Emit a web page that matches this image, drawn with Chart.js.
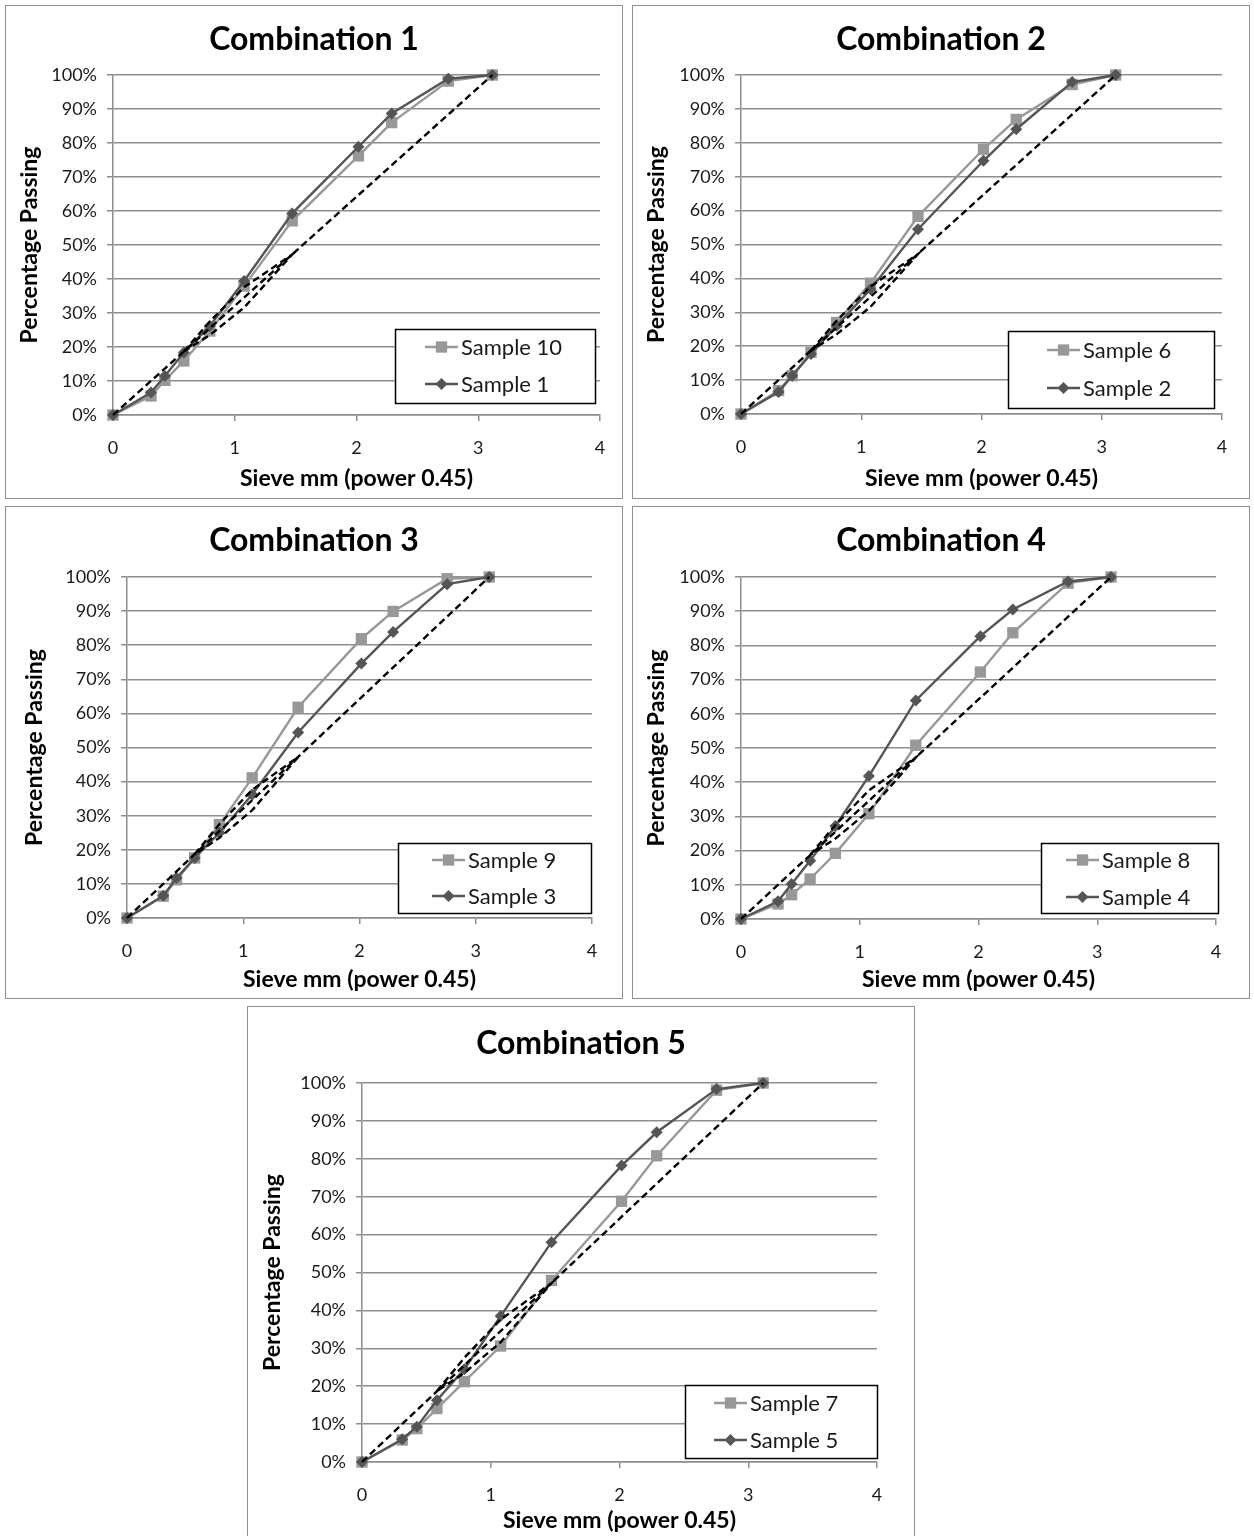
<!DOCTYPE html>
<html>
<head>
<meta charset="utf-8">
<title>Gradation curves – Combinations 1 to 5</title>
<script src="https://cdn.jsdelivr.net/npm/chart.js@4.4.1/dist/chart.umd.min.js"></script>
<style>
  html, body { margin: 0; padding: 0; background: #fff; width: 1254px; height: 1536px; overflow: hidden; }
  .panel { position: absolute; border: 1px solid #8f8f8f; box-sizing: border-box; background: #fff; overflow: hidden; }
  .panel canvas { position: absolute; left: 0; top: 0; }
</style>
</head>
<body>
<div class="panel" style="left:5px;top:5px;width:618px;height:494px"><canvas id="c1"></canvas></div>
<div class="panel" style="left:632px;top:5px;width:618px;height:494px"><canvas id="c2"></canvas></div>
<div class="panel" style="left:5px;top:506px;width:618px;height:493px"><canvas id="c3"></canvas></div>
<div class="panel" style="left:632px;top:506px;width:618px;height:493px"><canvas id="c4"></canvas></div>
<div class="panel" style="left:247px;top:1006px;width:668px;height:545px"><canvas id="c5"></canvas></div>

<script>
// Sieve sizes (mm) raised to the power 0.45: pan, 0.075, 0.15, 0.3, 0.6, 1.18, 2.36, 4.75, 6.3, 9.5, 12.5
const sieveX = [0, 0.312, 0.426, 0.582, 0.795, 1.077, 1.472, 2.016, 2.289, 2.754, 3.116];

const xTickValues = [0, 1, 2, 3, 4];
const yTickValues = [0, 10, 20, 30, 40, 50, 60, 70, 80, 90, 100];

// Percentage passing for each sample
const sample10 = [0, 5.6, 10.2, 15.9, 24.7, 37.9, 57.1, 76.2, 86.0, 98.2, 100];
const sample1  = [0, 6.6, 11.5, 18.4, 26.2, 39.4, 59.3, 78.9, 88.7, 98.9, 100];
const sample6  = [0, 6.9, 11.3, 18.2, 27.0, 38.6, 58.3, 78.1, 86.9, 97.2, 100];
const sample2  = [0, 6.5, 11.3, 17.7, 26.0, 36.8, 54.5, 74.7, 84.0, 97.9, 100];
const sample9  = [0, 6.4, 11.2, 17.6, 27.4, 41.1, 61.8, 81.9, 89.9, 99.5, 100];
const sample3  = [0, 6.5, 11.7, 17.6, 25.0, 36.2, 54.4, 74.6, 83.9, 97.9, 100];
const sample8  = [0, 4.4, 7.1, 11.7, 19.2, 30.8, 50.8, 72.2, 83.7, 98.2, 100];
const sample4  = [0, 5.2, 10.2, 17.0, 27.2, 41.8, 63.9, 82.7, 90.5, 98.7, 100];
const sample7  = [0, 5.8, 8.8, 14.1, 21.2, 30.6, 47.9, 68.8, 80.8, 98.1, 100];
const sample5  = [0, 6.0, 9.3, 16.3, 24.5, 38.5, 58.0, 78.2, 87.0, 98.4, 100];

// Maximum density line (0.45 power) and restricted zone
const maxDensityX = [0, 3.116];
const maxDensityY = [0, 100];
const zoneX = [0.582, 0.795, 1.077, 1.472, 1.077, 0.795, 0.582];
const zoneY = [18.7, 27.5, 37.6, 47.2, 31.6, 23.5, 18.7];

const combinationTitles = ['Combination 1', 'Combination 2', 'Combination 3', 'Combination 4', 'Combination 5'];
const squareSampleNames = ['Sample 10', 'Sample 6', 'Sample 9', 'Sample 8', 'Sample 7'];
const diamondSampleNames = ['Sample 1', 'Sample 2', 'Sample 3', 'Sample 4', 'Sample 5'];
const squareSampleValues = [sample10, sample6, sample9, sample8, sample7];
const diamondSampleValues = [sample1, sample2, sample3, sample4, sample5];

const axisTitleX = 'Sieve mm (power 0.45)';
const axisTitleY = 'Percentage Passing';

// ---- styling / layout ----
const FONT = 'Lato, "Open Sans", "DejaVu Sans", sans-serif';
const GRID = '#8d8d8d';
const SQUARE_COLOR = '#989898';
const DIAMOND_COLOR = '#555555';
const TITLE_SIZE = 32;
const AXIS_TITLE_SIZE = 23;
const TICK_SIZE = 18;
const LEGEND_SIZE = 22;

// canvas size, plot rectangle, text centre offsets and legend box for each panel (canvas pixels)
const panelLayouts = [
  { id: 'c1', w: 616, h: 492, plot: { left: 107, top: 69, right: 594, bottom: 409 }, titleMid: 34, yTitleMid: 24, xTitleFromBottom: 19,
    legend: { x: 389, y: 323, w: 200, h: 74, lineX: 30, rowA: 18, rowB: 55 } },
  { id: 'c2', w: 616, h: 492, plot: { left: 108, top: 69, right: 589, bottom: 408 }, titleMid: 34, yTitleMid: 24, xTitleFromBottom: 19,
    legend: { x: 375, y: 325, w: 206, h: 77, lineX: 39, rowA: 19, rowB: 57 } },
  { id: 'c3', w: 616, h: 491, plot: { left: 121, top: 70, right: 586, bottom: 411 }, titleMid: 34, yTitleMid: 29, xTitleFromBottom: 18,
    legend: { x: 392, y: 336, w: 193, h: 70, lineX: 34, rowA: 17, rowB: 53 } },
  { id: 'c4', w: 616, h: 491, plot: { left: 108, top: 70, right: 583, bottom: 412 }, titleMid: 34, yTitleMid: 24, xTitleFromBottom: 18,
    legend: { x: 408, y: 336, w: 177, h: 70, lineX: 25, rowA: 17, rowB: 54 } },
  { id: 'c5', w: 666, h: 530, plot: { left: 114, top: 76, right: 629, bottom: 455 }, titleMid: 37, yTitleMid: 25, xTitleFromBottom: 16,
    legend: { x: 437, y: 378, w: 192, h: 73, lineX: 29, rowA: 18, rowB: 55 } }
];

const toPoints = (xs, ys) => xs.map((x, i) => ({ x: x, y: ys[i] }));

function drawMarker(ctx, style, r, cx, cy, color) {
  ctx.beginPath();
  if (style === 'rect') {
    const s = r * Math.SQRT1_2;
    ctx.rect(cx - s, cy - s, 2 * s, 2 * s);
  } else {
    ctx.moveTo(cx, cy - r);
    ctx.lineTo(cx + r, cy);
    ctx.lineTo(cx, cy + r);
    ctx.lineTo(cx - r, cy);
    ctx.closePath();
  }
  ctx.fillStyle = color;
  ctx.fill();
}

// boxed legend drawn inside the plot, Excel style
const boxedLegend = {
  id: 'boxedLegend',
  afterDraw(chart, args, opts) {
    if (!opts || !opts.rows) return;
    const ctx = chart.ctx;
    ctx.save();
    ctx.fillStyle = '#ffffff';
    ctx.fillRect(opts.x, opts.y, opts.w, opts.h);
    ctx.strokeStyle = '#000000';
    ctx.lineWidth = 1.5;
    ctx.strokeRect(opts.x + 0.5, opts.y + 0.5, opts.w, opts.h);
    opts.rows.forEach(row => {
      const ds = chart.data.datasets[row.dataset];
      const y = opts.y + row.dy;
      const x0 = opts.x + opts.lineX;
      const x1 = x0 + 33;
      ctx.strokeStyle = ds.borderColor;
      ctx.lineWidth = ds.borderWidth;
      ctx.beginPath();
      ctx.moveTo(x0, y);
      ctx.lineTo(x1, y);
      ctx.stroke();
      drawMarker(ctx, ds.pointStyle, ds.pointRadius, (x0 + x1) / 2, y, ds.pointBackgroundColor);
      ctx.fillStyle = '#1a1a1a';
      ctx.font = LEGEND_SIZE + 'px ' + FONT;
      ctx.textAlign = 'left';
      ctx.textBaseline = 'middle';
      ctx.fillText(ds.label, x1 + 3, y + 1);
    });
    ctx.restore();
  }
};

panelLayouts.forEach((L, i) => {
  const canvas = document.getElementById(L.id);
  canvas.width = L.w;
  canvas.height = L.h;
  canvas.style.width = L.w + 'px';
  canvas.style.height = L.h + 'px';

  // equal side padding keeps the chart title centred on the panel
  const side = L.w - L.plot.right;
  const titleLine = TITLE_SIZE * 1.2;
  const titleTop = L.titleMid - titleLine / 2;
  const titleBottom = L.plot.top - titleTop - titleLine;
  const axisHalf = AXIS_TITLE_SIZE * 1.2 / 2;

  const datasets = [
    {
      label: 'Maximum density line',
      data: toPoints(maxDensityX, maxDensityY),
      showLine: true, borderColor: '#000', borderWidth: 2.4, borderDash: [7, 4],
      pointRadius: 0, clip: false
    },
    {
      label: 'Restricted zone',
      data: toPoints(zoneX, zoneY),
      showLine: true, borderColor: '#000', borderWidth: 2.4, borderDash: [7, 4],
      pointRadius: 0, clip: false
    },
    {
      label: diamondSampleNames[i],
      data: toPoints(sieveX, diamondSampleValues[i]),
      showLine: true, borderColor: DIAMOND_COLOR, borderWidth: 2.4,
      pointStyle: 'rectRot', pointRadius: 6, pointBackgroundColor: DIAMOND_COLOR,
      pointBorderColor: DIAMOND_COLOR, pointBorderWidth: 0, clip: false
    },
    {
      label: squareSampleNames[i],
      data: toPoints(sieveX, squareSampleValues[i]),
      showLine: true, borderColor: SQUARE_COLOR, borderWidth: 2.4,
      pointStyle: 'rect', pointRadius: 8, pointBackgroundColor: SQUARE_COLOR,
      pointBorderColor: SQUARE_COLOR, pointBorderWidth: 0, clip: false
    }
  ];

  new Chart(canvas.getContext('2d'), {
    type: 'scatter',
    data: { datasets: datasets },
    options: {
      responsive: false,
      animation: false,
      devicePixelRatio: 1,
      layout: { padding: { left: side, top: 0, right: side, bottom: 0 } },
      elements: { line: { tension: 0 } },
      plugins: {
        legend: { display: false },
        tooltip: { enabled: false },
        title: {
          display: true,
          text: combinationTitles[i],
          color: '#000',
          font: { family: FONT, size: TITLE_SIZE, weight: 'bold', lineHeight: 1.2 },
          padding: { top: titleTop, bottom: titleBottom }
        },
        boxedLegend: {
          x: L.legend.x, y: L.legend.y, w: L.legend.w, h: L.legend.h, lineX: L.legend.lineX,
          rows: [{ dataset: 3, dy: L.legend.rowA }, { dataset: 2, dy: L.legend.rowB }]
        }
      },
      scales: {
        x: {
          type: 'linear',
          min: xTickValues[0],
          max: xTickValues[xTickValues.length - 1],
          afterBuildTicks: s => { s.ticks = xTickValues.map(v => ({ value: v })); },
          afterFit: s => { s.height = L.h - L.plot.bottom; },
          ticks: { color: '#1a1a1a', font: { family: FONT, size: TICK_SIZE }, padding: 16 },
          grid: { drawOnChartArea: false, drawTicks: true, tickLength: 6, color: GRID, lineWidth: 1.5 },
          border: { color: GRID, width: 1.5 },
          title: {
            display: true, text: axisTitleX, color: '#000',
            font: { family: FONT, size: AXIS_TITLE_SIZE, weight: 'bold', lineHeight: 1.2 },
            padding: { top: 0, bottom: L.xTitleFromBottom - axisHalf }
          }
        },
        y: {
          type: 'linear',
          min: yTickValues[0],
          max: yTickValues[yTickValues.length - 1],
          afterBuildTicks: s => { s.ticks = yTickValues.map(v => ({ value: v })); },
          afterFit: s => { s.width = L.plot.left - side; },
          ticks: { color: '#1a1a1a', font: { family: FONT, size: TICK_SIZE }, padding: 10, callback: v => v + '%' },
          grid: { drawTicks: true, tickLength: 6, color: GRID, lineWidth: 1.5 },
          border: { color: GRID, width: 1.5 },
          title: {
            display: true, text: axisTitleY, color: '#000',
            font: { family: FONT, size: AXIS_TITLE_SIZE, weight: 'bold', lineHeight: 1.2 },
            padding: { top: L.yTitleMid - axisHalf - side, bottom: 0 }
          }
        }
      }
    },
    plugins: [boxedLegend]
  });
});
</script>
</body>
</html>
